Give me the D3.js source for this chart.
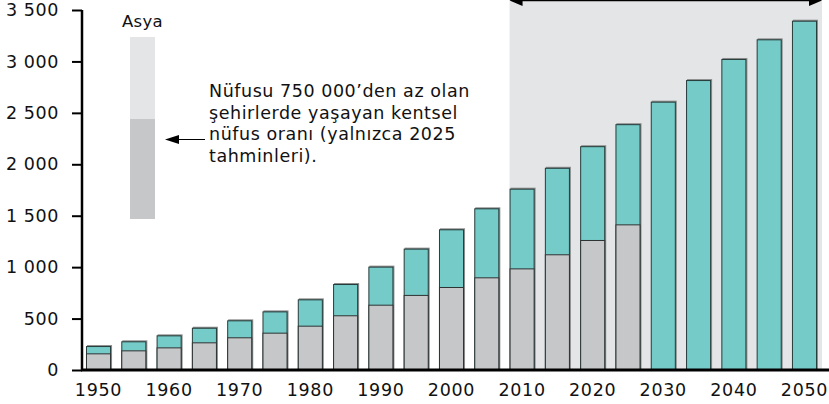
<!DOCTYPE html>
<html>
<head>
<meta charset="utf-8">
<script src="https://cdn.jsdelivr.net/npm/d3@7"></script>
<style>
  body { margin: 0; background: #fff; }
  svg { display: block; font-family: "DejaVu Sans", Verdana, sans-serif; }
</style>
</head>
<body>
<script>
"use strict";

// years on the x axis (every 5 years)
var years = [1950, 1955, 1960, 1965, 1970, 1975, 1980, 1985, 1990, 1995, 2000,
  2005, 2010, 2015, 2020, 2025, 2030, 2035, 2040, 2045, 2050];
// total urban population, millions
var totals = [233, 279, 337, 411, 483, 570, 687, 836, 1005, 1180, 1368,
  1572, 1763, 1966, 2176, 2390, 2609, 2819, 3024, 3215, 3396];
// part living in cities below 750 000 (only up to 2025)
var smallCity = [162, 191, 220, 269, 318, 363, 431, 532, 635, 730, 807,
  901, 988, 1125, 1264, 1416];
var yTicks = [0, 500, 1000, 1500, 2000, 2500, 3000, 3500];
var xLabels = [1950, 1960, 1970, 1980, 1990, 2000, 2010, 2020, 2030, 2040, 2050];
var projectionStart = 2010;
var legendTitle = "Asya";
var noteLines = [
  "Nüfusu 750 000’den az olan",
  "şehirlerde yaşayan kentsel",
  "nüfus oranı (yalnızca 2025",
  "tahminleri)."
];

var W = 829, H = 404;
var teal = "#74cbc8", grey = "#c6c7c9", shade = "#e4e5e7";
var font = "\"DejaVu Sans\", Verdana, sans-serif";

var svg = d3.select("body").append("svg")
  .attr("width", W).attr("height", H);

var x = d3.scaleBand().domain(years).range([82, 821])
  .paddingInner(0.29).paddingOuter(0.113);
var y = d3.scaleLinear().domain([0, 3500]).range([370, 10]);

var fmt = d3.formatLocale({ decimal: ",", thousands: " ", grouping: [3], currency: ["", ""] }).format(",d");

// projection background
svg.append("rect")
  .attr("x", x(projectionStart))
  .attr("y", 0)
  .attr("width", x.range()[1] + 1 - x(projectionStart))
  .attr("height", y(0))
  .attr("fill", shade);

// double arrow at top of the projection area
var ax0 = x(projectionStart), ax1 = x.range()[1] + 1;
svg.append("line").attr("x1", ax0 + 4).attr("x2", ax1 - 4)
  .attr("y1", 0.5).attr("y2", 0.5).attr("stroke", "#000").attr("stroke-width", 1.5);
svg.append("path").attr("d", "M" + ax0 + ",0.5L" + (ax0 + 13) + ",-5L" + (ax0 + 13) + ",6Z").attr("fill", "#000");
svg.append("path").attr("d", "M" + ax1 + ",0.5L" + (ax1 - 13) + ",-5L" + (ax1 - 13) + ",6Z").attr("fill", "#000");

// bars
var bars = svg.append("g").selectAll("g").data(years).join("g");

bars.append("rect")
  .attr("x", function (d) { return x(d) + 1; })
  .attr("y", function (d, i) { return y(totals[i]) - 1; })
  .attr("width", x.bandwidth())
  .attr("height", function (d, i) { return y(0) - y(totals[i]); })
  .attr("fill", "#8e8e8e");

bars.append("rect")
  .attr("x", function (d) { return x(d) + 0.5; })
  .attr("y", function (d, i) { return y(totals[i]) + 0.5; })
  .attr("width", x.bandwidth() - 1)
  .attr("height", function (d, i) { return y(0) - y(totals[i]); })
  .attr("fill", teal)
  .attr("stroke", "#263c3b")
  .attr("stroke-width", 1);

bars.filter(function (d, i) { return i < smallCity.length; })
  .append("rect")
  .attr("x", function (d) { return x(d) + 0.5; })
  .attr("y", function (d, i) { return y(smallCity[i]) + 0.5; })
  .attr("width", x.bandwidth() - 1)
  .attr("height", function (d, i) { return y(0) - y(smallCity[i]); })
  .attr("fill", grey)
  .attr("stroke", "#2e3333")
  .attr("stroke-width", 1);

// y axis
var yAxis = svg.append("g")
  .attr("transform", "translate(82,0)")
  .call(d3.axisLeft(y).tickValues(yTicks).tickSize(10).tickPadding(13).tickFormat(fmt));
yAxis.select(".domain").attr("stroke-width", 2.5).attr("d", "M0," + y(3500) + "V" + y(0));
yAxis.selectAll(".tick line").attr("stroke-width", 2);
yAxis.selectAll("text").attr("font-size", 17.5).attr("fill", "#111")
  .attr("letter-spacing", 0.6).style("font-family", font);

// x axis
var xAxis = svg.append("g")
  .attr("transform", "translate(0," + y(0) + ")")
  .call(d3.axisBottom(x).tickValues(xLabels).tickSize(0).tickPadding(14));
xAxis.select(".domain").remove();
xAxis.selectAll("text").attr("font-size", 17.5).attr("fill", "#111")
  .attr("letter-spacing", 0.7).style("font-family", font);
svg.append("line").attr("x1", 81).attr("x2", W).attr("y1", y(0)).attr("y2", y(0))
  .attr("stroke", "#000").attr("stroke-width", 3);

// legend
svg.append("text").attr("x", 142.5).attr("y", 26.5).attr("text-anchor", "middle")
  .attr("font-size", 16.5).attr("letter-spacing", 0.3).attr("fill", "#111").text(legendTitle);
svg.append("rect").attr("x", 130).attr("y", 37).attr("width", 25).attr("height", 82).attr("fill", shade);
svg.append("rect").attr("x", 130).attr("y", 119).attr("width", 25).attr("height", 100).attr("fill", grey);

svg.append("line").attr("x1", 176).attr("x2", 205).attr("y1", 139.5).attr("y2", 139.5)
  .attr("stroke", "#000").attr("stroke-width", 1);
svg.append("path").attr("d", "M165,139.5L179,135L179,144Z").attr("fill", "#000");

svg.append("text").attr("x", 209).attr("y", 97.3)
  .attr("font-size", 17.5).attr("letter-spacing", 0.55).attr("fill", "#111")
  .selectAll("tspan").data(noteLines).join("tspan")
  .attr("x", 209)
  .attr("dy", function (d, i) { return i === 0 ? 0 : 21.4; })
  .text(function (d) { return d; });
</script>
</body>
</html>
